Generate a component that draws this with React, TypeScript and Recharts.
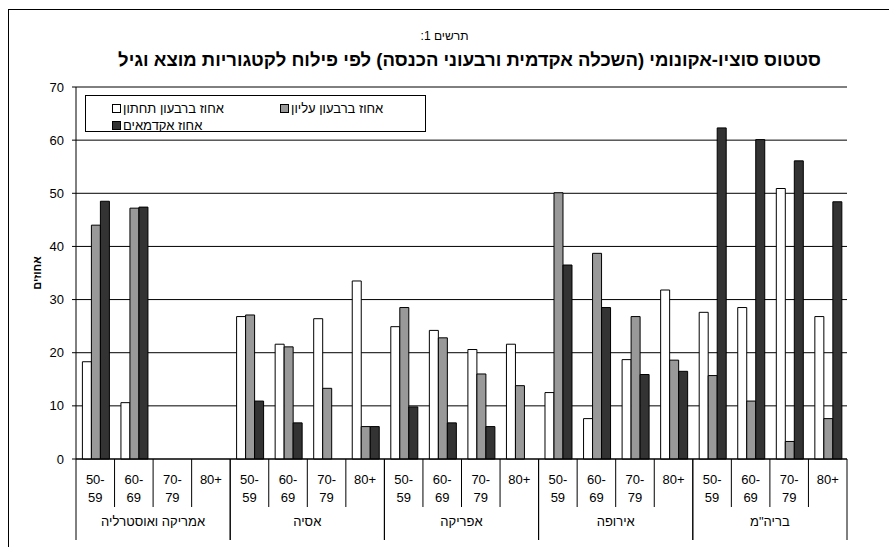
import React from 'react';
import { BarChart, Bar, XAxis, YAxis, CartesianGrid, Legend } from 'recharts';

// ─── Data ─────────────────────────────────────────────────────────────────────

const GROUPS = ['אמריקה ואוסטרליה', 'אסיה', 'אפריקה', 'אירופה', 'בריה"מ'];
const AGES = ['50-59', '60-69', '70-79', '80+'];

// one value per (group, age), in the order above; null = no bar
const LOWER = [18.3, 10.6, null, null, 26.8, 21.6, 26.4, 33.5, 24.9, 24.2, 20.6, 21.6, 12.5, 7.6, 18.7, 31.8, 27.6, 28.5, 50.9, 26.8];
const UPPER = [44.0, 47.2, null, null, 27.1, 21.1, 13.3, 6.1, 28.5, 22.8, 16.0, 13.8, 50.1, 38.7, 26.8, 18.6, 15.7, 10.9, 3.3, 7.6];
const ACADEMIC = [48.5, 47.4, null, null, 10.9, 6.8, null, 6.1, 9.8, 6.8, 6.1, null, 36.5, 28.5, 15.9, 16.5, 62.3, 60.1, 56.1, 48.4];

const Y_TICKS = [0, 10, 20, 30, 40, 50, 60, 70];

const SERIES = [
  { key: 'lower', name: 'אחוז ברבעון תחתון', fill: '#ffffff' },
  { key: 'upper', name: 'אחוז ברבעון עליון', fill: '#999999' },
  { key: 'academic', name: 'אחוז אקדמאים', fill: '#333333' },
];

const ROWS = GROUPS.flatMap((group, gi) =>
  AGES.map((age, ai) => {
    const i = gi * AGES.length + ai;
    return { id: `${group} ${age}`, group, age, lower: LOWER[i], upper: UPPER[i], academic: ACADEMIC[i] };
  }),
);

const FONT = '"Liberation Sans", Arial, sans-serif';

// ─── Axis pieces ──────────────────────────────────────────────────────────────

function AgeTick(props: any) {
  const { x, y, payload, index } = props;
  const band = payload?.offset ? payload.offset * 2 : props.width / props.visibleTicksCount;
  const half = band / 2;
  const row = ROWS[index];
  if (!row) return null;
  const per = AGES.length;
  const pos = index % per;
  const parts = row.age.includes('-') ? [row.age.split('-')[0] + '-', row.age.split('-')[1]] : [row.age];

  return (
    <g>
      {pos === 0 && <line x1={x - half} x2={x - half} y1={y} y2={y + 81} stroke="#000" />}
      <line x1={x + half} x2={x + half} y1={y} y2={y + (pos === per - 1 ? 81 : 48)} stroke="#000" />
      <text x={x} y={y + 25} textAnchor="middle" fontSize={13} fill="#000" fontFamily={FONT}>
        {parts[0]}
      </text>
      {parts[1] && (
        <text x={x} y={y + 43} textAnchor="middle" fontSize={13} fill="#000" fontFamily={FONT}>
          {parts[1]}
        </text>
      )}
      {pos === 0 && (
        <text x={x - half + (band * per) / 2} y={y + 67} textAnchor="middle" fontSize={13} fill="#000" fontFamily={FONT}>
          {row.group}
        </text>
      )}
    </g>
  );
}

function YTitle(props: any) {
  const { viewBox } = props;
  const cx = viewBox.x + 37;
  const cy = viewBox.y + viewBox.height / 2;
  return (
    <text
      x={cx}
      y={cy}
      transform={`rotate(-90 ${cx} ${cy})`}
      textAnchor="middle"
      dominantBaseline="central"
      fontSize={11}
      fontWeight="bold"
      fill="#000"
      fontFamily={FONT}
    >
      אחוזים
    </text>
  );
}

function LegendBox() {
  const spots = [
    { left: 26, top: 5 },
    { left: 194, top: 5 },
    { left: 26, top: 22 },
  ];
  return (
    <div
      style={{
        boxSizing: 'border-box',
        width: 341,
        height: 37,
        border: '1px solid #000',
        background: '#fff',
        position: 'relative',
        fontFamily: FONT,
        fontSize: 13,
        color: '#000',
      }}
    >
      {SERIES.map((s, i) => (
        <div
          key={s.key}
          style={{ position: 'absolute', ...spots[i], display: 'flex', alignItems: 'center', height: 15, direction: 'ltr' }}
        >
          <span
            style={{
              boxSizing: 'border-box',
              width: 9,
              height: 9,
              border: '1px solid #000',
              background: s.fill,
              marginRight: 2,
            }}
          />
          <span style={{ lineHeight: '15px', whiteSpace: 'nowrap' }}>{s.name}</span>
        </div>
      ))}
    </div>
  );
}

// ─── Chart ────────────────────────────────────────────────────────────────────

export default function App() {
  return (
    <div
      style={{
        position: 'absolute',
        left: 0,
        top: 0,
        width: 889,
        height: 547,
        overflow: 'hidden',
        background: '#fff',
        fontFamily: FONT,
      }}
    >
      {/* outer frame */}
      <div
        style={{
          position: 'absolute',
          left: 8,
          top: 9,
          width: 920,
          height: 600,
          borderLeft: '1px solid #000',
          borderTop: '1px solid #000',
        }}
      />
      <div style={{ position: 'absolute', left: 0, width: 889, top: 29, textAlign: 'center', fontSize: 12, direction: 'rtl' }}>
        תרשים 1:
      </div>
      <div
        style={{
          position: 'absolute',
          left: 50,
          width: 839,
          top: 49,
          textAlign: 'center',
          fontSize: 18.5,
          fontWeight: 'bold',
          direction: 'rtl',
          whiteSpace: 'nowrap',
        }}
      >
        סטטוס סוציו-אקונומי (השכלה אקדמית ורבעוני הכנסה) לפי פילוח לקטגוריות מוצא וגיל
      </div>

      <BarChart
        width={889}
        height={547}
        data={ROWS}
        margin={{ top: 87, right: 42, bottom: 6, left: 0 }}
        barCategoryGap="16.6%"
        barGap={0}
        style={{ position: 'absolute', left: 0, top: 0 }}
      >
        <CartesianGrid vertical={false} stroke="#000" />
        <XAxis
          dataKey="id"
          interval={0}
          tick={<AgeTick />}
          tickLine={false}
          tickSize={0}
          tickMargin={0}
          axisLine={{ stroke: '#000' }}
          height={82}
        />
        <YAxis
          domain={[0, 70]}
          ticks={Y_TICKS}
          width={76}
          tickSize={4}
          tickMargin={8}
          tick={{ fontSize: 13, fill: '#000', fontFamily: FONT }}
          axisLine={{ stroke: '#000' }}
          tickLine={{ stroke: '#000' }}
          label={<YTitle />}
        />
        <YAxis
          yAxisId="right"
          orientation="right"
          domain={[0, 70]}
          width={0}
          tick={false}
          tickLine={false}
          axisLine={{ stroke: '#000' }}
        />
        <Legend
          layout="vertical"
          verticalAlign="middle"
          align="center"
          wrapperStyle={{ left: 85, top: 95, width: 341 }}
          content={<LegendBox />}
        />
        {SERIES.map((s) => (
          <Bar key={s.key} dataKey={s.key} name={s.name} fill={s.fill} stroke="#000" strokeWidth={1} isAnimationActive={false} />
        ))}
      </BarChart>
    </div>
  );
}
